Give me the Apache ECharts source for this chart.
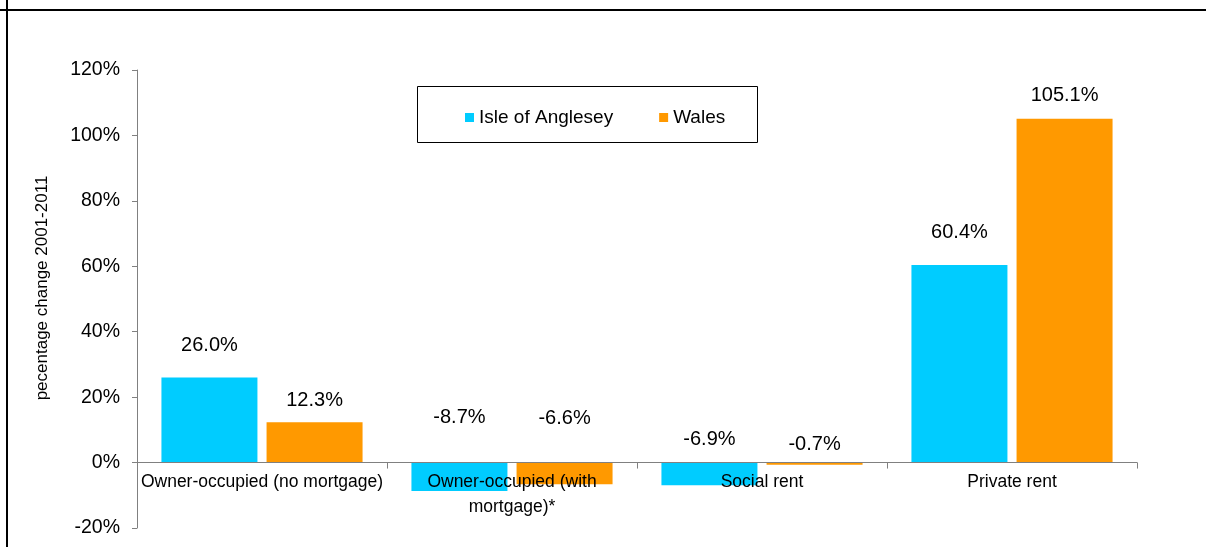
<!DOCTYPE html>
<html>
<head>
<meta charset="utf-8">
<script src="https://cdn.jsdelivr.net/npm/echarts@6/dist/echarts.min.js"></script>
<style>
  html, body { margin: 0; padding: 0; background: #fff; }
  #chart { width: 1206px; height: 547px; }
</style>
</head>
<body>
<div id="chart"></div>
<script>
const categories = [
  'Owner-occupied (no mortgage)',
  'Owner-occupied (with\nmortgage)*',
  'Social rent',
  'Private rent'
]
const anglesey = [26.0, -8.7, -6.9, 60.4]
const wales = [12.3, -6.6, -0.7, 105.1]

// label gaps above bars (manual placement in the original)
const angleseyGap = [22, 35, 13, 22]
const walesGap = [12, 34, 8, 13]

const font = "'Liberation Sans', Arial, sans-serif"
const chart = echarts.init(document.getElementById('chart'))

const yMin = -20
const yMax = 120
const gridTop = 70
const gridBottom = 19
const plotH = 547 - gridTop - gridBottom
// category axis sits on the zero line, labels just under it
const zeroOffset = -plotH * (0 - yMin) / (yMax - yMin)

const makeData = (vals, gaps) =>
  vals.map((v, i) => ({ value: v, label: { distance: gaps[i] } }))

const barLabel = {
  show: true,
  position: 'top',
  fontSize: 20,
  color: '#000',
  fontFamily: font,
  formatter: p => p.value.toFixed(1) + '%'
}

const option = {
  backgroundColor: '#fff',
  animation: false,
  textStyle: { fontFamily: font },
  grid: { left: 137, right: 69, top: gridTop, bottom: gridBottom, outerBoundsMode: 'none' },
  graphic: [
    { type: 'line', shape: { x1: 0, y1: 10, x2: 1206, y2: 10 }, style: { stroke: '#000', lineWidth: 2 } },
    { type: 'line', shape: { x1: 7, y1: 0, x2: 7, y2: 547 }, style: { stroke: '#000', lineWidth: 2 } },
    {
      type: 'rect',
      shape: { x: 417.5, y: 86.5, width: 340, height: 56 },
      style: { fill: '#fff', stroke: '#000', lineWidth: 1 },
      z: 0
    },
    {
      type: 'text',
      x: 42, y: 288,
      rotation: Math.PI / 2,
      style: {
        text: 'pecentage change 2001-2011',
        font: '17px ' + font,
        fill: '#000',
        align: 'center',
        verticalAlign: 'middle'
      }
    }
  ],
  legend: {
    left: 460,
    top: 103,
    itemWidth: 9,
    itemHeight: 9,
    itemGap: 46,
    icon: 'rect',
    textStyle: { fontSize: 19, color: '#000', fontFamily: font },
    z: 10
  },
  xAxis: {
    type: 'category',
    data: categories,
    offset: zeroOffset,
    axisLine: { onZero: false, lineStyle: { color: '#808080', width: 1 } },
    axisTick: { show: true, length: 6, interval: 0, lineStyle: { color: '#808080' } },
    axisLabel: {
      interval: 0,
      margin: 7,
      fontSize: 17.5,
      lineHeight: 25,
      color: '#000',
      fontFamily: font
    },
    z: 5
  },
  yAxis: {
    type: 'value',
    min: yMin,
    max: yMax,
    interval: 20,
    splitLine: { show: false },
    axisLine: { show: true, lineStyle: { color: '#808080' } },
    axisTick: { show: true, length: 5, lineStyle: { color: '#808080' } },
    axisLabel: {
      margin: 17,
      fontSize: 19.5,
      color: '#000',
      fontFamily: font,
      formatter: v => v + '%'
    }
  },
  series: [
    {
      name: 'Isle of Anglesey',
      type: 'bar',
      barWidth: '38.4%',
      barGap: '9.5%',
      itemStyle: { color: '#00CCFF' },
      label: barLabel,
      data: makeData(anglesey, angleseyGap)
    },
    {
      name: 'Wales',
      type: 'bar',
      barWidth: '38.4%',
      itemStyle: { color: '#FF9900' },
      label: barLabel,
      data: makeData(wales, walesGap)
    }
  ]
}

chart.setOption(option)
window.addEventListener('resize', function () {
  chart.resize()
})
</script>
</body>
</html>
